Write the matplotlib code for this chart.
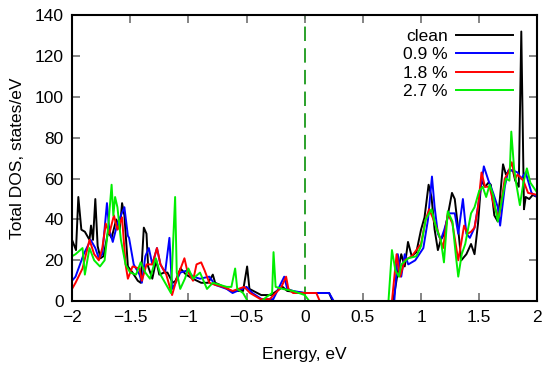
import matplotlib
matplotlib.use("Agg")
import matplotlib.pyplot as plt

plt.rcParams['font.family'] = ['Liberation Sans', 'DejaVu Sans']

# ---- data ----
clean_E = [-2.0, -1.966, -1.946, -1.92, -1.89, -1.85, -1.837, -1.82, -1.80, -1.78, -1.756, -1.73,
           -1.69, -1.66, -1.62, -1.59, -1.57, -1.55, -1.52, -1.48, -1.435, -1.41, -1.383, -1.36,
           -1.346, -1.31, -1.277, -1.25, -1.21, -1.18, -1.134, -1.11, -1.068, -1.02, -0.962, -0.89,
           -0.83, -0.79, -0.77, -0.73, -0.632, -0.53, -0.495, -0.475, -0.374, -0.29, -0.19, -0.15,
           0.0, 0.21, 0.24, 0.5, 0.76, 0.80, 0.83, 0.86, 0.888, 0.92, 0.96, 1.0, 1.03, 1.065, 1.09,
           1.117, 1.145, 1.17, 1.2, 1.23, 1.266, 1.29, 1.32, 1.346, 1.39, 1.43, 1.46, 1.49, 1.518,
           1.55, 1.58, 1.6, 1.63, 1.66, 1.705, 1.73, 1.76, 1.79, 1.81, 1.84, 1.862, 1.885, 1.90,
           1.93, 1.96, 2.0]
clean_D = [30, 25, 51, 35, 34, 30, 37, 30, 50, 27, 21, 22,
           34, 31, 40, 35, 48, 42, 17, 14, 10, 9, 36, 33,
           17, 11, 20, 13, 14, 14, 9, 10, 16, 13, 11, 9,
           9, 13, 9, 8, 5, 5, 17, 6, 3, 3, 7, 5,
           4, 4, 0, 0, 0, 14, 23, 17, 29, 22, 24, 35, 41, 57, 51,
           35, 25, 30, 33, 42, 53, 50, 35, 20, 23, 28, 23, 38, 59,
           56, 58, 57, 42, 39, 67, 62, 64, 64, 59, 56, 132, 45, 51,
           50, 52, 51]

p09_E = [-2.0, -1.97, -1.9, -1.84, -1.8, -1.77, -1.74, -1.70, -1.68, -1.65, -1.61, -1.55, -1.52,
         -1.51, -1.47, -1.42, -1.40, -1.37, -1.34, -1.31, -1.27, -1.24, -1.20, -1.163, -1.14,
         -1.11, -1.07, -1.01, -0.96, -0.90, -0.82, -0.77, -0.67, -0.62, -0.50, -0.45, -0.37,
         -0.27, -0.176, -0.15, -0.10, 0.0, 0.21, 0.25, 0.5, 0.77, 0.8, 0.83, 0.86, 0.89, 0.95,
         1.02, 1.06, 1.094, 1.117, 1.145, 1.17, 1.2, 1.24, 1.29, 1.32, 1.36, 1.39, 1.42, 1.46,
         1.50, 1.54, 1.58, 1.62, 1.66, 1.68, 1.72, 1.75, 1.79, 1.83, 1.86, 1.9, 1.95, 2.0]
p09_D = [10, 12, 23, 30, 26, 21, 23, 48, 35, 29, 38, 46, 32,
         31, 18, 13, 9, 22, 26, 18, 26, 18, 14, 31, 6,
         9, 14, 15, 12, 11, 12, 8, 6, 4, 7, 4, 1,
         1, 12, 6, 5, 4, 4, 0, 0, 0, 23, 12, 23, 18, 20,
         26, 40, 61, 46, 33, 30, 35, 43, 43, 33, 50, 33, 31, 36,
         50, 66, 59, 53, 46, 37, 56, 64, 64, 63, 60, 63, 53, 51]

p18_E = [-2.0, -1.97, -1.91, -1.85, -1.81, -1.77, -1.74, -1.71, -1.68, -1.64, -1.61, -1.57, -1.54,
         -1.52, -1.48, -1.42, -1.40, -1.36, -1.31, -1.27, -1.24, -1.19, -1.14, -1.10, -1.034,
         -1.01, -0.96, -0.93, -0.89, -0.86, -0.82, -0.77, -0.70, -0.62, -0.52, -0.47, -0.38,
         -0.30, -0.25, -0.20, -0.16, -0.14, -0.10, 0.0, 0.10, 0.13, 0.5, 0.75, 0.79, 0.82, 0.86,
         0.92, 1.0, 1.04, 1.07, 1.10, 1.14, 1.19, 1.23, 1.27, 1.32, 1.35, 1.37, 1.40, 1.43, 1.46,
         1.49, 1.52, 1.55, 1.59, 1.63, 1.67, 1.72, 1.75, 1.78, 1.81, 1.83, 1.88, 1.92, 2.0]
p18_D = [6, 9, 16, 30, 23, 20, 26, 38, 33, 42, 35, 41, 18,
         11, 17, 16, 10, 18, 18, 26, 18, 13, 3, 11, 21,
         15, 10, 18, 19, 15, 9, 8, 7, 5, 7, 4, 1,
         1, 4, 7, 12, 6, 4, 4, 4, 0, 0, 0, 23, 12, 20,
         22, 28, 40, 45, 41, 35, 26, 43, 38, 20, 30, 37, 33, 34, 36,
         46, 63, 56, 56, 46, 41, 60, 63, 68, 60, 62, 59, 53, 52]

p27_E = [-2.0, -1.97, -1.91, -1.89, -1.85, -1.81, -1.76, -1.72, -1.69, -1.66, -1.645, -1.63,
         -1.61, -1.58, -1.54, -1.5, -1.45, -1.41, -1.37, -1.33, -1.28, -1.24, -1.20, -1.15,
         -1.114, -1.10, -1.07, -1.03, -1.0, -0.96, -0.90, -0.84, -0.79, -0.73, -0.67, -0.63,
         -0.598, -0.58, -0.53, -0.49, -0.37, -0.33, -0.28, -0.268, -0.25, -0.19, -0.10, 0.0,
         0.04, 0.5, 0.72, 0.75, 0.78, 0.81, 0.83, 0.89, 0.96, 1.0, 1.04, 1.09, 1.13, 1.17, 1.197,
         1.23, 1.27, 1.30, 1.32, 1.35, 1.38, 1.43, 1.46, 1.50, 1.53, 1.56, 1.59, 1.62, 1.66,
         1.71, 1.73, 1.76, 1.776, 1.80, 1.82, 1.85, 1.88, 1.91, 1.94, 2.0]
p27_D = [22, 23, 26, 13, 26, 20, 17, 20, 36, 57, 42, 51,
         46, 30, 18, 14, 13, 19, 14, 11, 21, 13, 9, 4,
         51, 14, 6, 11, 16, 11, 14, 6, 9, 8, 7, 7,
         16, 6, 4, 0, 0, 2, 4, 24, 7, 6, 5, 3,
         0, 0, 0, 25, 15, 12, 18, 21, 22, 27, 40, 45, 36, 30, 19,
         44, 39, 22, 12, 23, 28, 43, 46, 54, 56, 51, 57, 52, 39,
         54, 60, 59, 83, 65, 57, 47, 58, 65, 58, 53]

labels = ["clean", "0.9 %", "1.8 %", "2.7 %"]
colors = ["#000000", "#0000ff", "#ff0000", "#00ee00"]
fermi = 0.0

fig = plt.figure(figsize=(5.5, 3.7), dpi=100)
ax = fig.add_axes([0.131, 0.186, 0.846, 0.773])

series = [(clean_E, clean_D), (p09_E, p09_D), (p18_E, p18_D), (p27_E, p27_D)]
for (e, d), lab, c in zip(series, labels, colors):
    ax.plot(e, d, color=c, lw=1.4, label=lab)

ax.axvline(fermi, color="#1a9a1a", lw=1.3, dashes=(8, 4), zorder=0)

ax.set_xlim(-2, 2)
ax.set_ylim(0, 140)
ax.set_xticks([-2, -1.5, -1, -0.5, 0, 0.5, 1, 1.5, 2])
ax.set_xticklabels(["\u22122", "\u22121.5", "\u22121", "\u22120.5", "0", "0.5", "1", "1.5", "2"])
ax.set_yticks(range(0, 141, 20))
ax.tick_params(direction="in", length=6, width=1.2, color="#707070",
               top=True, right=True, labelsize=12.5, pad=6)
for s in ax.spines.values():
    s.set_linewidth(1.5)

ax.set_xlabel("Energy, eV", fontsize=12.5, labelpad=16)
ax.set_ylabel("Total DOS, states/eV", fontsize=12.5, labelpad=7)

leg = ax.legend(loc="upper right", bbox_to_anchor=(0.97, 0.99), frameon=False,
                markerfirst=False, fontsize=12.5, handlelength=3.3, handletextpad=0.45,
                labelspacing=0.2, borderaxespad=0.2)
for t in leg.get_texts():
    t.set_ha("right")

fig.savefig("out.png", dpi=100)
